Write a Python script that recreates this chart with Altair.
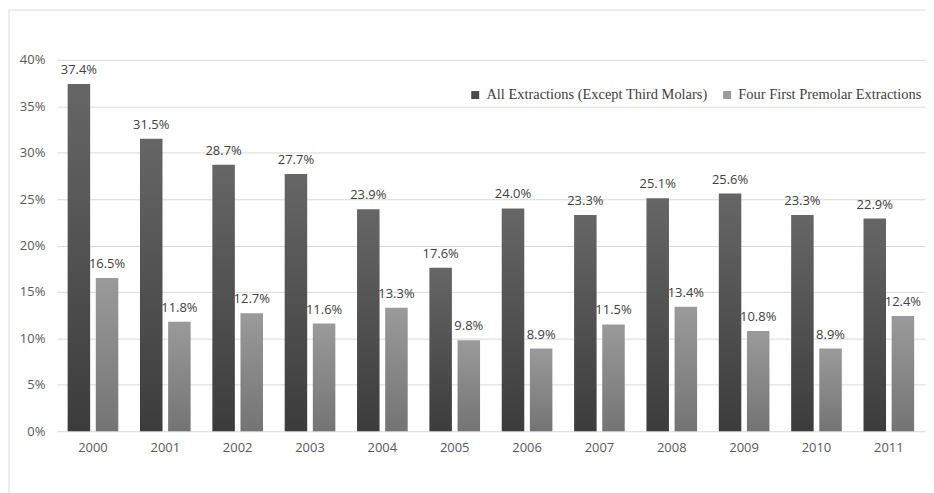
import altair as alt
import pandas as pd

years = ["2000", "2001", "2002", "2003", "2004", "2005", "2006", "2007", "2008", "2009", "2010", "2011"]
series_names = ["All Extractions (Except Third Molars)", "Four First Premolar Extractions"]
all_extractions = [37.4, 31.5, 28.7, 27.7, 23.9, 17.6, 24.0, 23.3, 25.1, 25.6, 23.3, 22.9]
four_premolar = [16.5, 11.8, 12.7, 11.6, 13.3, 9.8, 8.9, 11.5, 13.4, 10.8, 8.9, 12.4]

rows = []
for i, y in enumerate(years):
    rows.append({"year": y, "series": series_names[0], "value": all_extractions[i]})
    rows.append({"year": y, "series": series_names[1], "value": four_premolar[i]})
df = pd.DataFrame(rows)

grad_dark = alt.LinearGradient(gradient="linear", x1=0, y1=0, x2=0, y2=1,
                               stops=[alt.GradientStop(offset=0, color="#666666"),
                                      alt.GradientStop(offset=1, color="#3c3c3c")])
grad_light = alt.LinearGradient(gradient="linear", x1=0, y1=0, x2=0, y2=1,
                                stops=[alt.GradientStop(offset=0, color="#9a9a9a"),
                                       alt.GradientStop(offset=1, color="#747474")])

x_enc = alt.X("year:N", title=None, sort=years,
              scale=alt.Scale(paddingInner=0.3, paddingOuter=0.15),
              axis=alt.Axis(labelAngle=0, ticks=False, domain=False, labelPadding=10,
                            labelFont="Open Sans", labelFontSize=13, labelColor="#595959"))
xoff = alt.XOffset("series:N", sort=series_names,
                   scale=alt.Scale(domain=series_names, paddingInner=0.2))
y_enc = alt.Y("value:Q", title=None,
              scale=alt.Scale(domain=[0, 40]),
              axis=alt.Axis(values=[0, 5, 10, 15, 20, 25, 30, 35, 40], labelExpr="datum.value + '%'",
                            ticks=False, domain=False, labelPadding=12, gridColor="#d9d9d9",
                            labelFont="Open Sans", labelFontSize=13, labelColor="#595959"))

base = alt.Chart(df)

bars_dark = base.transform_filter(alt.datum.series == series_names[0]).mark_bar(color=grad_dark).encode(
    x=x_enc, xOffset=xoff, y=y_enc)
bars_light = base.transform_filter(alt.datum.series == series_names[1]).mark_bar(color=grad_light).encode(
    x=x_enc, xOffset=xoff, y=y_enc)

legend_layer = base.mark_square(opacity=0, size=1).encode(
    x=x_enc, xOffset=xoff, y=y_enc,
    color=alt.Color("series:N", sort=series_names, title=None,
                    scale=alt.Scale(domain=series_names, range=["#4a4a4a", "#9a9a9a"]),
                    legend=alt.Legend(orient="none", legendX=413, legendY=28, direction="horizontal",
                                      symbolType="square", symbolSize=64, symbolOpacity=1,
                                      symbolStrokeWidth=0,
                                      labelFont="Liberation Serif", labelFontSize=14.5,
                                      labelColor="#404040", columnPadding=12, labelLimit=400)),
)

labels = base.transform_calculate(
    lbl="format(datum.value, '.1f') + '%'"
).mark_text(baseline="bottom", dy=-7, font="Open Sans", fontSize=13, color="#404040").encode(
    x=x_enc,
    xOffset=xoff,
    y=alt.Y("value:Q"),
    text="lbl:N",
)

one = pd.DataFrame({"a": [0]})
frame_top = alt.Chart(one).mark_rule(color="#d9d9d9", strokeWidth=1).encode(
    x=alt.value(-48), x2=alt.value(872), y=alt.value(-50))
frame_left = alt.Chart(one).mark_rule(color="#d9d9d9", strokeWidth=1).encode(
    x=alt.value(-48), y=alt.value(-50), y2=alt.value(435))

chart = alt.layer(frame_top, frame_left, bars_dark, bars_light, legend_layer, labels).properties(
    width=872, height=373,
    padding={"left": 0, "top": 0, "right": 0, "bottom": 0},
).configure_view(stroke=None)

chart.save("out.html", embed_options={"renderer": "svg", "actions": False})
